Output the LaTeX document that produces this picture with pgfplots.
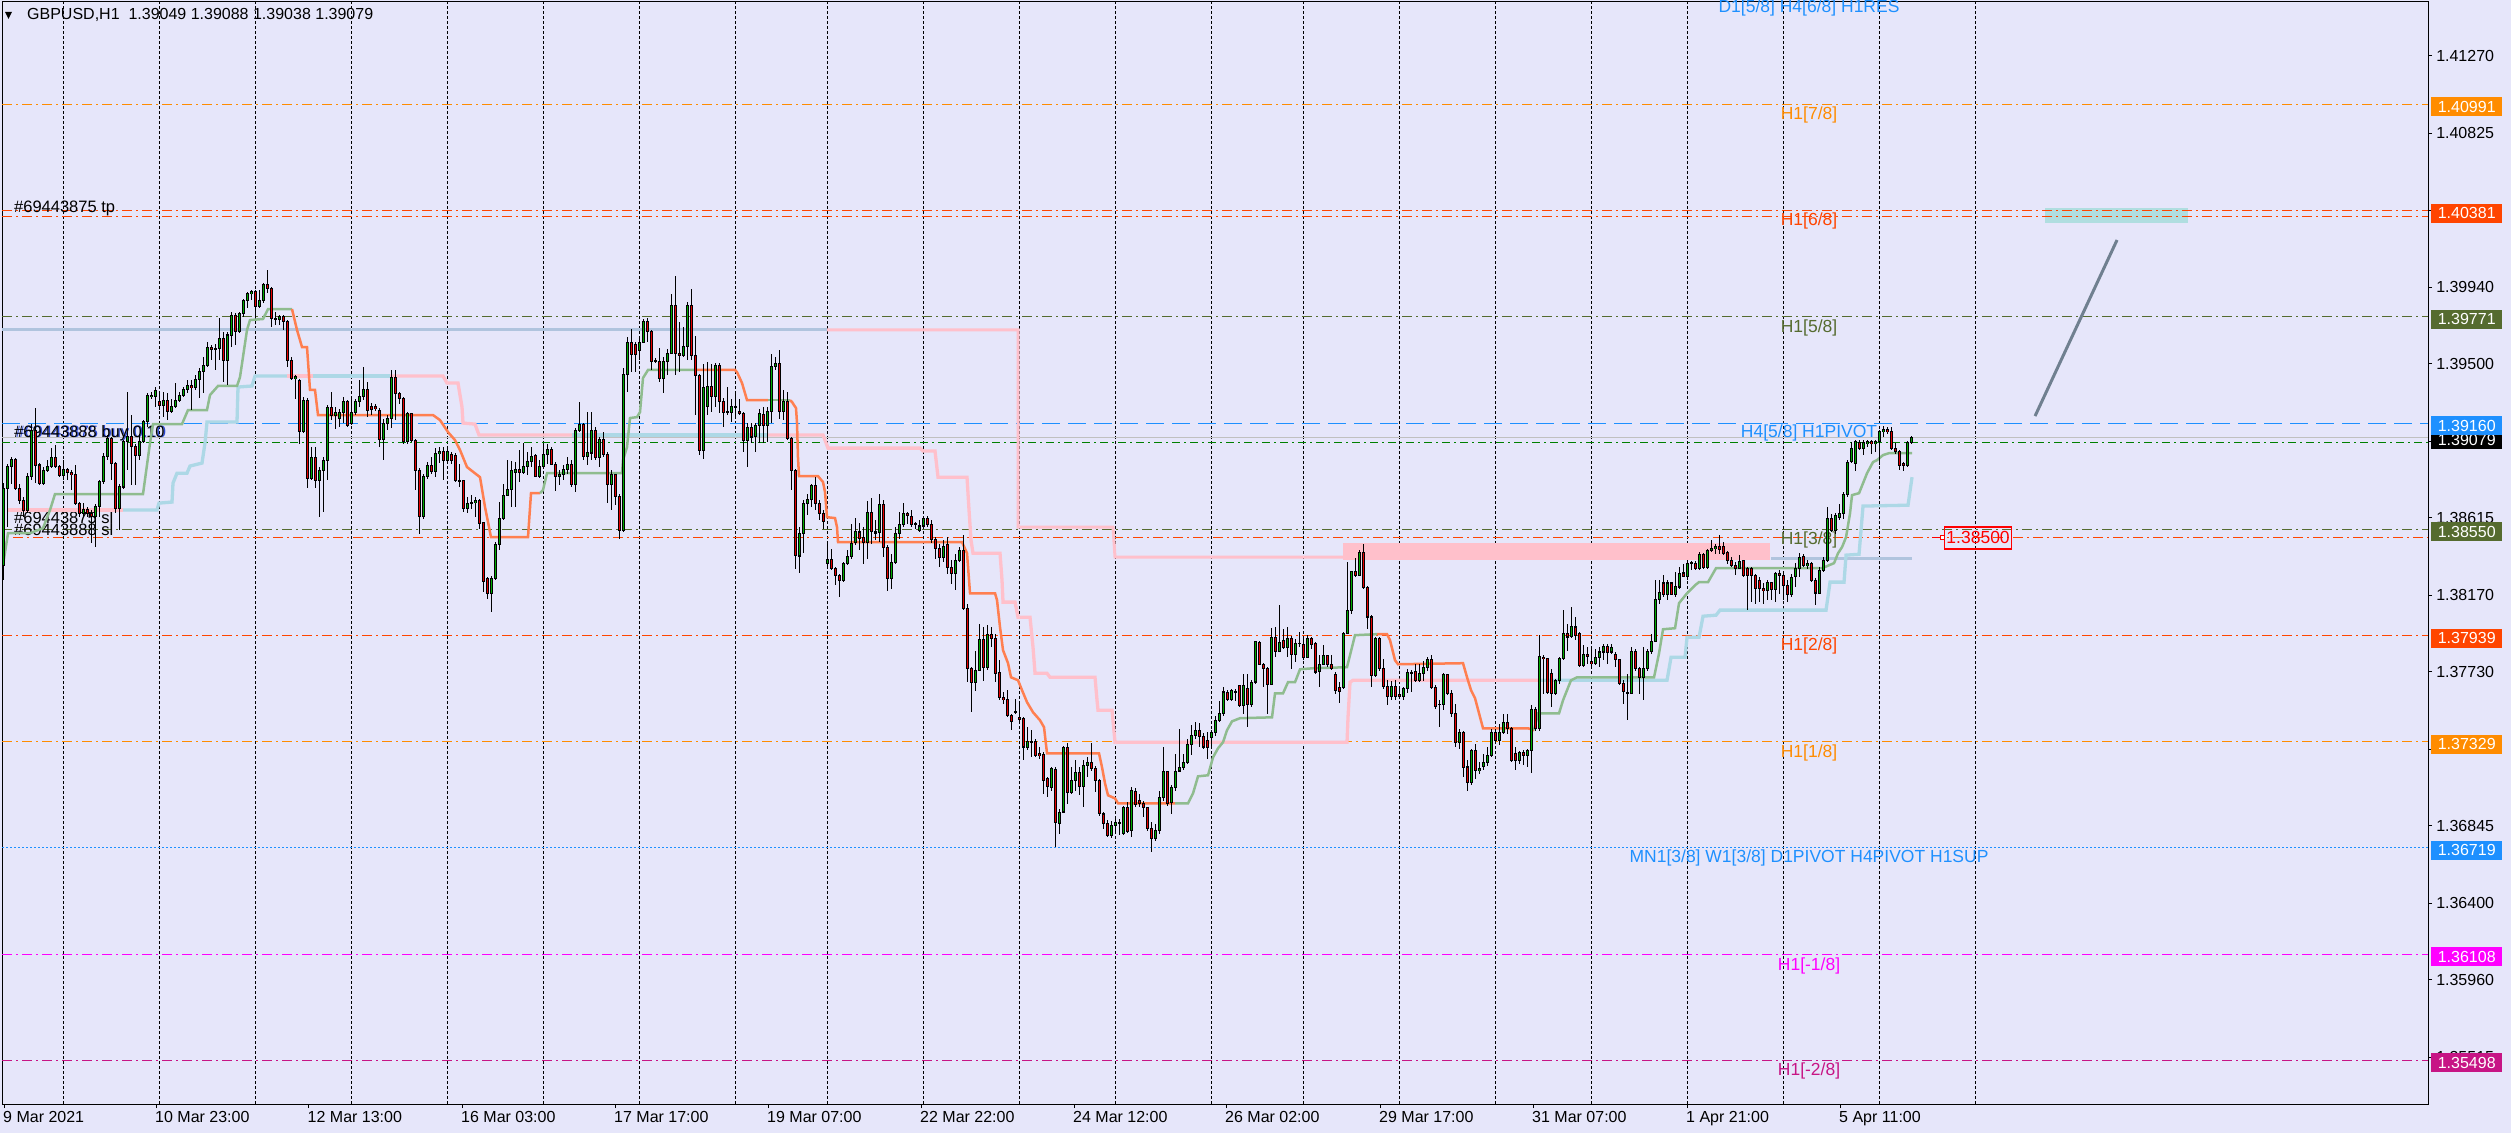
\documentclass[border=0pt]{standalone}
\usepackage{fontspec}
\setmainfont{Liberation Sans}
\usepackage{pgfplots}
\pgfplotsset{compat=1.18}
\usepackage{pgfplotstable}
\definecolor{bg}{RGB}{230,230,250}
\definecolor{dkorange}{RGB}{255,140,0}
\definecolor{orred}{RGB}{255,69,0}
\definecolor{olive2}{RGB}{85,107,47}
\definecolor{dodger}{RGB}{30,144,255}
\definecolor{magen}{RGB}{255,0,255}
\definecolor{mvred}{RGB}{199,21,133}
\definecolor{ordgreen}{RGB}{0,128,0}
\definecolor{silver}{RGB}{192,192,192}
\definecolor{coral2}{RGB}{255,127,80}
\definecolor{dsgreen}{RGB}{143,188,143}
\definecolor{lblue}{RGB}{173,216,230}
\definecolor{pink2}{RGB}{255,192,203}
\definecolor{lsteel}{RGB}{176,196,222}
\definecolor{slate}{RGB}{112,128,144}
\definecolor{teal1}{RGB}{176,222,224}
\definecolor{upc}{RGB}{0,170,0}
\definecolor{dnc}{RGB}{230,0,0}
\definecolor{ordblue}{RGB}{40,70,210}
\newcommand\tickfont{\fontsize{16bp}{18bp}\selectfont}
\newcommand\lvlfont{\fontsize{17.5bp}{20bp}\selectfont}
\newcommand\ordfont{\fontsize{16.5bp}{19bp}\selectfont}
\pgfplotstableread{
i O H L C
0 1.38344 1.38813 1.38257 1.38785
1 1.38785 1.38928 1.38564 1.38909
2 1.38909 1.38967 1.38813 1.38951
3 1.38951 1.38957 1.38775 1.38785
4 1.38785 1.38813 1.38698 1.38717
5 1.38717 1.38737 1.38622 1.38660
6 1.38660 1.38871 1.38641 1.38855
7 1.38855 1.39158 1.38832 1.39120
8 1.39120 1.39245 1.38813 1.38919
9 1.38919 1.38928 1.38804 1.38813
10 1.38813 1.38909 1.38804 1.38890
11 1.38890 1.38947 1.38880 1.38909
12 1.38909 1.39015 1.38900 1.38963
13 1.38963 1.39034 1.38900 1.38909
14 1.38909 1.38919 1.38852 1.38861
15 1.38861 1.38947 1.38832 1.38894
16 1.38894 1.38900 1.38832 1.38875
17 1.38875 1.38890 1.38775 1.38867
18 1.38867 1.38919 1.38689 1.38698
19 1.38698 1.38708 1.38622 1.38641
20 1.38641 1.38698 1.38622 1.38664
21 1.38664 1.38679 1.38622 1.38641
22 1.38641 1.38660 1.38468 1.38622
23 1.38622 1.38698 1.38449 1.38679
24 1.38679 1.38832 1.38622 1.38823
25 1.38823 1.38986 1.38813 1.38967
26 1.38967 1.39091 1.38947 1.39072
27 1.39072 1.39082 1.38832 1.38928
28 1.38928 1.38938 1.38641 1.38670
29 1.38670 1.38813 1.38545 1.38794
30 1.38794 1.39062 1.38785 1.39053
31 1.39053 1.39340 1.38890 1.39082
32 1.39082 1.39206 1.38804 1.39024
33 1.39024 1.39043 1.38804 1.38976
34 1.38976 1.39101 1.38947 1.39053
35 1.39053 1.39177 1.39043 1.39168
36 1.39168 1.39331 1.39139 1.39321
37 1.39312 1.39340 1.39302 1.39321
38 1.39312 1.39369 1.39254 1.39350
39 1.39283 1.39331 1.39235 1.39264
40 1.39264 1.39340 1.39197 1.39289
41 1.39289 1.39331 1.39177 1.39225
42 1.39225 1.39302 1.39216 1.39254
43 1.39254 1.39388 1.39245 1.39289
44 1.39289 1.39340 1.39283 1.39321
45 1.39321 1.39369 1.39312 1.39354
46 1.39354 1.39407 1.39331 1.39379
47 1.39379 1.39407 1.39235 1.39365
48 1.39365 1.39436 1.39350 1.39411
49 1.39411 1.39475 1.39302 1.39455
50 1.39455 1.39542 1.39331 1.39494
51 1.39494 1.39628 1.39484 1.39595
52 1.39595 1.39609 1.39522 1.39584
53 1.39584 1.39618 1.39465 1.39588
54 1.39588 1.39762 1.39522 1.39647
55 1.39647 1.39685 1.39398 1.39522
56 1.39522 1.39685 1.39379 1.39666
57 1.39666 1.39800 1.39599 1.39777
58 1.39777 1.39795 1.39609 1.39685
59 1.39685 1.39800 1.39676 1.39791
60 1.39791 1.39871 1.39772 1.39864
61 1.39864 1.39915 1.39820 1.39906
62 1.39906 1.39925 1.39867 1.39915
63 1.39915 1.39925 1.39772 1.39829
64 1.39829 1.39925 1.39820 1.39867
65 1.39867 1.39963 1.39848 1.39954
66 1.39954 1.40040 1.39906 1.39935
67 1.39935 1.39944 1.39714 1.39762
68 1.39762 1.39800 1.39724 1.39756
69 1.39756 1.39781 1.39724 1.39772
70 1.39772 1.39781 1.39695 1.39743
71 1.39743 1.39752 1.39484 1.39522
72 1.39522 1.39542 1.39407 1.39417
73 1.39417 1.39436 1.39302 1.39427
74 1.39407 1.39417 1.39043 1.39110
75 1.39110 1.39312 1.39101 1.39292
76 1.39292 1.39302 1.38785 1.38842
77 1.38842 1.39024 1.38832 1.38963
78 1.38963 1.39024 1.38785 1.38832
79 1.38832 1.38909 1.38622 1.38890
80 1.38890 1.38967 1.38650 1.38944
81 1.38944 1.39264 1.38832 1.39250
82 1.39250 1.39340 1.39177 1.39206
83 1.39206 1.39254 1.39130 1.39220
84 1.39187 1.39245 1.39139 1.39220
85 1.39220 1.39312 1.39158 1.39283
86 1.39283 1.39292 1.39139 1.39149
87 1.39158 1.39312 1.39149 1.39220
88 1.39220 1.39302 1.39206 1.39283
89 1.39283 1.39407 1.39254 1.39312
90 1.39312 1.39484 1.39292 1.39354
91 1.39354 1.39398 1.39197 1.39231
92 1.39254 1.39273 1.39206 1.39239
93 1.39254 1.39269 1.39231 1.39243
94 1.39235 1.39245 1.39024 1.39066
95 1.39066 1.39187 1.38947 1.39158
96 1.39158 1.39206 1.39120 1.39187
97 1.39187 1.39465 1.39130 1.39423
98 1.39423 1.39465 1.39177 1.39331
99 1.39331 1.39340 1.39273 1.39302
100 1.39302 1.39312 1.39043 1.39053
101 1.39053 1.39225 1.39043 1.39216
102 1.39216 1.39220 1.39053 1.39062
103 1.39062 1.39072 1.38775 1.38890
104 1.38890 1.38900 1.38522 1.38622
105 1.38622 1.38871 1.38612 1.38852
106 1.38852 1.38938 1.38842 1.38919
107 1.38919 1.38967 1.38871 1.38880
108 1.38880 1.39015 1.38852 1.38986
109 1.38986 1.39024 1.38928 1.38995
110 1.38995 1.39024 1.38832 1.38947
111 1.38947 1.39009 1.38928 1.38995
112 1.38982 1.38995 1.38928 1.38947
113 1.38976 1.38986 1.38823 1.38832
114 1.38832 1.38928 1.38794 1.38829
115 1.38829 1.38836 1.38650 1.38670
116 1.38670 1.38737 1.38641 1.38698
117 1.38698 1.38746 1.38670 1.38702
118 1.38702 1.38737 1.38622 1.38714
119 1.38714 1.38727 1.38555 1.38583
120 1.38589 1.38592 1.38190 1.38253
121 1.38267 1.38276 1.38152 1.38180
122 1.38180 1.38280 1.38075 1.38267
123 1.38267 1.38477 1.38257 1.38464
124 1.38464 1.38707 1.38429 1.38612
125 1.38612 1.38813 1.38602 1.38746
126 1.38746 1.38947 1.38746 1.38778
127 1.38778 1.38943 1.38679 1.38889
128 1.38876 1.38937 1.38679 1.38893
129 1.38893 1.39004 1.38822 1.38876
130 1.38876 1.39047 1.38870 1.38912
131 1.38912 1.38995 1.38861 1.38937
132 1.38937 1.39024 1.38909 1.38966
133 1.38976 1.38985 1.38851 1.38855
134 1.38855 1.38951 1.38847 1.38909
135 1.38909 1.39043 1.38899 1.38981
136 1.38981 1.39043 1.38924 1.39008
137 1.39008 1.39024 1.38918 1.38924
138 1.38924 1.38937 1.38771 1.38855
139 1.38855 1.38889 1.38803 1.38866
140 1.38866 1.38918 1.38832 1.38893
141 1.38893 1.38966 1.38870 1.38924
142 1.38924 1.38947 1.38794 1.38809
143 1.38809 1.39129 1.38765 1.39119
144 1.39119 1.39282 1.39110 1.39154
145 1.39154 1.39158 1.38947 1.38970
146 1.38970 1.39225 1.38918 1.38989
147 1.38989 1.39225 1.38951 1.39119
148 1.39119 1.39139 1.38947 1.38962
149 1.38962 1.39081 1.38909 1.39066
150 1.39066 1.39110 1.38966 1.38981
151 1.38981 1.38995 1.38702 1.38809
152 1.38809 1.38889 1.38663 1.38866
153 1.38866 1.38870 1.38688 1.38740
154 1.38740 1.38755 1.38497 1.38544
155 1.38544 1.39474 1.38535 1.39442
156 1.39442 1.39652 1.39340 1.39624
157 1.39624 1.39704 1.39455 1.39555
158 1.39612 1.39627 1.39455 1.39555
159 1.39579 1.39647 1.39522 1.39622
160 1.39622 1.39756 1.39618 1.39742
161 1.39742 1.39767 1.39627 1.39685
162 1.39685 1.39694 1.39464 1.39512
163 1.39522 1.39532 1.39503 1.39516
164 1.39516 1.39589 1.39397 1.39417
165 1.39417 1.39541 1.39334 1.39512
166 1.39512 1.39589 1.39436 1.39560
167 1.39560 1.39905 1.39560 1.39838
168 1.39838 1.40005 1.39436 1.39560
169 1.39560 1.39742 1.39455 1.39551
170 1.39551 1.39714 1.39541 1.39602
171 1.39602 1.39857 1.39522 1.39838
172 1.39838 1.39928 1.39522 1.39551
173 1.39551 1.39660 1.39206 1.39436
174 1.39436 1.39445 1.38976 1.39004
175 1.39004 1.39503 1.38957 1.39365
176 1.39257 1.39512 1.39206 1.39369
177 1.39369 1.39503 1.39225 1.39311
178 1.39311 1.39503 1.39254 1.39493
179 1.39493 1.39503 1.39215 1.39282
180 1.39282 1.39302 1.39139 1.39219
181 1.39225 1.39369 1.39206 1.39219
182 1.39219 1.39302 1.39167 1.39254
183 1.39254 1.39330 1.39200 1.39257
184 1.39229 1.39302 1.39206 1.39215
185 1.39215 1.39225 1.38995 1.39058
186 1.39058 1.39158 1.38909 1.39135
187 1.39135 1.39158 1.39047 1.39081
188 1.39081 1.39162 1.38995 1.39148
189 1.39148 1.39244 1.39047 1.39215
190 1.39211 1.39254 1.39047 1.39144
191 1.39144 1.39254 1.39052 1.39229
192 1.39229 1.39556 1.39158 1.39487
193 1.39487 1.39541 1.39464 1.39503
194 1.39503 1.39583 1.39187 1.39225
195 1.39225 1.39353 1.39177 1.39282
196 1.39282 1.39340 1.39062 1.39072
197 1.39072 1.39081 1.38774 1.38886
198 1.38886 1.38899 1.38324 1.38397
199 1.38397 1.38564 1.38295 1.38525
200 1.38525 1.38717 1.38410 1.38698
201 1.38698 1.38755 1.38631 1.38721
202 1.38721 1.38813 1.38679 1.38803
203 1.38803 1.38851 1.38659 1.38698
204 1.38698 1.38717 1.38602 1.38640
205 1.38640 1.38659 1.38554 1.38598
206 1.38353 1.38468 1.38324 1.38376
207 1.38376 1.38439 1.38314 1.38324
208 1.38324 1.38334 1.38228 1.38286
209 1.38286 1.38295 1.38161 1.38257
210 1.38257 1.38362 1.38247 1.38353
211 1.38353 1.38429 1.38343 1.38395
212 1.38395 1.38583 1.38382 1.38472
213 1.38472 1.38612 1.38458 1.38535
214 1.38535 1.38583 1.38429 1.38497
215 1.38502 1.38564 1.38353 1.38472
216 1.38472 1.38713 1.38382 1.38646
217 1.38646 1.38732 1.38468 1.38535
218 1.38535 1.38602 1.38487 1.38529
219 1.38529 1.38755 1.38477 1.38692
220 1.38692 1.38717 1.38391 1.38445
221 1.38445 1.38458 1.38199 1.38267
222 1.38267 1.38410 1.38209 1.38359
223 1.38359 1.38564 1.38349 1.38525
224 1.38525 1.38650 1.38497 1.38579
225 1.38579 1.38702 1.38564 1.38640
226 1.38640 1.38650 1.38583 1.38631
227 1.38625 1.38663 1.38564 1.38579
228 1.38583 1.38592 1.38554 1.38579
229 1.38544 1.38602 1.38535 1.38569
230 1.38569 1.38621 1.38564 1.38612
231 1.38612 1.38625 1.38564 1.38579
232 1.38579 1.38602 1.38472 1.38491
233 1.38491 1.38506 1.38382 1.38439
234 1.38439 1.38468 1.38334 1.38387
235 1.38387 1.38487 1.38362 1.38452
236 1.38464 1.38506 1.38295 1.38330
237 1.38330 1.38372 1.38238 1.38295
238 1.38295 1.38410 1.38199 1.38372
239 1.38372 1.38449 1.38362 1.38429
240 1.38429 1.38516 1.38084 1.38094
241 1.38094 1.38123 1.37672 1.37749
242 1.37749 1.37759 1.37500 1.37667
243 1.37667 1.37854 1.37624 1.37739
244 1.37739 1.38008 1.37736 1.37916
245 1.37916 1.37989 1.37682 1.37755
246 1.37755 1.37998 1.37739 1.37946
247 1.37946 1.37989 1.37874 1.37922
248 1.37922 1.37950 1.37672 1.37724
249 1.37724 1.37797 1.37567 1.37582
250 1.37582 1.37615 1.37548 1.37571
251 1.37571 1.37624 1.37471 1.37481
252 1.37481 1.37490 1.37394 1.37448
253 1.37500 1.37577 1.37490 1.37506
254 1.37471 1.37567 1.37442 1.37456
255 1.37462 1.37471 1.37222 1.37299
256 1.37299 1.37414 1.37279 1.37333
257 1.37333 1.37394 1.37241 1.37327
258 1.37333 1.37347 1.37241 1.37251
259 1.37260 1.37299 1.37232 1.37251
260 1.37256 1.37270 1.37030 1.37107
261 1.37117 1.37126 1.37011 1.37069
262 1.37069 1.37184 1.37049 1.37174
263 1.37168 1.37184 1.36727 1.36862
264 1.36862 1.36944 1.36800 1.36925
265 1.36925 1.37308 1.36925 1.37295
266 1.37295 1.37322 1.36973 1.37040
267 1.37040 1.37184 1.37030 1.37107
268 1.37107 1.37226 1.37049 1.37155
269 1.37155 1.37187 1.37021 1.37074
270 1.37074 1.37222 1.36954 1.37193
271 1.37193 1.37245 1.37126 1.37209
272 1.37209 1.37322 1.37164 1.37174
273 1.37174 1.37193 1.37040 1.37107
274 1.37107 1.37117 1.36906 1.36915
275 1.36915 1.36925 1.36829 1.36858
276 1.36858 1.36877 1.36781 1.36791
277 1.36791 1.36873 1.36777 1.36848
278 1.36848 1.36892 1.36800 1.36862
279 1.36862 1.36887 1.36796 1.36867
280 1.36800 1.36963 1.36791 1.36954
281 1.36954 1.36982 1.36804 1.36816
282 1.36816 1.37069 1.36781 1.37046
283 1.37046 1.37065 1.36954 1.36969
284 1.36992 1.37030 1.36957 1.36973
285 1.36973 1.36992 1.36896 1.36950
286 1.36950 1.36954 1.36819 1.36829
287 1.36829 1.36867 1.36695 1.36772
288 1.36772 1.36858 1.36762 1.36819
289 1.36819 1.37049 1.36800 1.37007
290 1.37007 1.37299 1.36992 1.37161
291 1.37161 1.37164 1.36963 1.36977
292 1.36977 1.37078 1.36915 1.37065
293 1.37065 1.37260 1.37049 1.37161
294 1.37161 1.37404 1.37155 1.37180
295 1.37180 1.37260 1.37164 1.37209
296 1.37209 1.37347 1.37203 1.37314
297 1.37314 1.37423 1.37251 1.37366
298 1.37366 1.37442 1.37347 1.37394
299 1.37394 1.37437 1.37299 1.37360
300 1.37360 1.37379 1.37289 1.37299
301 1.37337 1.37385 1.37232 1.37295
302 1.37352 1.37394 1.37299 1.37385
303 1.37385 1.37481 1.37366 1.37452
304 1.37452 1.37567 1.37442 1.37490
305 1.37490 1.37644 1.37481 1.37615
306 1.37615 1.37628 1.37567 1.37571
307 1.37571 1.37634 1.37563 1.37624
308 1.37615 1.37634 1.37567 1.37621
309 1.37653 1.37653 1.37529 1.37538
310 1.37538 1.37720 1.37490 1.37653
311 1.37634 1.37720 1.37414 1.37544
312 1.37544 1.37682 1.37529 1.37672
313 1.37672 1.37908 1.37663 1.37902
314 1.37902 1.37908 1.37768 1.37774
315 1.37774 1.37782 1.37644 1.37749
316 1.37749 1.37759 1.37490 1.37659
317 1.37659 1.37985 1.37653 1.37927
318 1.37927 1.37989 1.37816 1.37851
319 1.37851 1.38119 1.37845 1.37902
320 1.37912 1.37979 1.37864 1.37874
321 1.37874 1.37989 1.37816 1.37922
322 1.37922 1.37935 1.37749 1.37831
323 1.37831 1.37922 1.37787 1.37893
324 1.37893 1.37960 1.37874 1.37897
325 1.37889 1.37931 1.37797 1.37816
326 1.37816 1.37941 1.37812 1.37922
327 1.37922 1.37931 1.37864 1.37889
328 1.37893 1.37902 1.37720 1.37730
329 1.37730 1.37826 1.37644 1.37774
330 1.37774 1.37883 1.37768 1.37826
331 1.37826 1.37831 1.37759 1.37774
332 1.37774 1.37826 1.37739 1.37749
333 1.37716 1.37730 1.37605 1.37624
334 1.37644 1.37672 1.37552 1.37621
335 1.37644 1.37960 1.37634 1.37950
336 1.37950 1.38362 1.37946 1.38084
337 1.38084 1.38314 1.38065 1.38305
338 1.38305 1.38382 1.38276 1.38286
339 1.38286 1.38429 1.38280 1.38416
340 1.38416 1.38464 1.38209 1.38215
341 1.38215 1.38223 1.37979 1.38046
342 1.38046 1.38056 1.37644 1.37711
343 1.37711 1.37931 1.37701 1.37922
344 1.37922 1.37931 1.37739 1.37749
345 1.37749 1.37807 1.37634 1.37647
346 1.37647 1.37682 1.37538 1.37590
347 1.37590 1.37682 1.37571 1.37647
348 1.37647 1.37682 1.37567 1.37590
349 1.37601 1.37644 1.37586 1.37590
350 1.37590 1.37644 1.37571 1.37634
351 1.37634 1.37749 1.37609 1.37724
352 1.37724 1.37739 1.37615 1.37730
353 1.37730 1.37778 1.37672 1.37682
354 1.37682 1.37778 1.37672 1.37720
355 1.37720 1.37797 1.37682 1.37759
356 1.37759 1.37816 1.37739 1.37801
357 1.37801 1.37826 1.37634 1.37640
358 1.37640 1.37653 1.37519 1.37529
359 1.37544 1.37567 1.37414 1.37544
360 1.37544 1.37724 1.37513 1.37716
361 1.37716 1.37720 1.37596 1.37605
362 1.37605 1.37624 1.37471 1.37490
363 1.37490 1.37548 1.37299 1.37327
364 1.37327 1.37404 1.37289 1.37385
365 1.37385 1.37394 1.37126 1.37184
366 1.37184 1.37222 1.37049 1.37097
367 1.37097 1.37289 1.37078 1.37279
368 1.37279 1.37318 1.37117 1.37164
369 1.37164 1.37212 1.37145 1.37174
370 1.37184 1.37260 1.37164 1.37212
371 1.37212 1.37299 1.37193 1.37251
372 1.37251 1.37404 1.37241 1.37385
373 1.37385 1.37404 1.37327 1.37337
374 1.37337 1.37433 1.37308 1.37385
375 1.37385 1.37490 1.37375 1.37442
376 1.37442 1.37490 1.37375 1.37404
377 1.37404 1.37414 1.37212 1.37222
378 1.37260 1.37299 1.37164 1.37222
379 1.37222 1.37279 1.37203 1.37270
380 1.37270 1.37283 1.37193 1.37251
381 1.37251 1.37289 1.37184 1.37279
382 1.37279 1.37538 1.37149 1.37513
383 1.37513 1.37529 1.37394 1.37404
384 1.37404 1.37941 1.37394 1.37816
385 1.37816 1.37826 1.37605 1.37807
386 1.37807 1.37812 1.37605 1.37609
387 1.37720 1.37749 1.37529 1.37605
388 1.37605 1.37692 1.37596 1.37682
389 1.37682 1.37816 1.37663 1.37807
390 1.37807 1.38084 1.37797 1.37950
391 1.37950 1.38008 1.37854 1.37931
392 1.37931 1.38104 1.37922 1.37989
393 1.37989 1.38046 1.37912 1.37941
394 1.37950 1.37960 1.37759 1.37768
395 1.37768 1.37883 1.37759 1.37831
396 1.37831 1.37874 1.37778 1.37820
397 1.37791 1.37864 1.37759 1.37778
398 1.37778 1.37864 1.37768 1.37812
399 1.37812 1.37874 1.37759 1.37845
400 1.37845 1.37893 1.37797 1.37874
401 1.37877 1.37893 1.37778 1.37845
402 1.37845 1.37893 1.37835 1.37870
403 1.37831 1.37845 1.37759 1.37801
404 1.37801 1.37807 1.37653 1.37663
405 1.37663 1.37682 1.37548 1.37615
406 1.37615 1.37720 1.37452 1.37609
407 1.37609 1.37874 1.37605 1.37851
408 1.37851 1.37864 1.37739 1.37749
409 1.37749 1.37759 1.37605 1.37701
410 1.37701 1.37874 1.37567 1.37749
411 1.37749 1.37864 1.37739 1.37851
412 1.37851 1.37950 1.37835 1.37908
413 1.37908 1.38257 1.37902 1.38146
414 1.38146 1.38257 1.38123 1.38190
415 1.38242 1.38286 1.38161 1.38176
416 1.38176 1.38257 1.38142 1.38242
417 1.38242 1.38247 1.38171 1.38176
418 1.38176 1.38305 1.38161 1.38219
419 1.38219 1.38334 1.38209 1.38299
420 1.38299 1.38353 1.38276 1.38280
421 1.38280 1.38372 1.38257 1.38353
422 1.38353 1.38368 1.38314 1.38357
423 1.38357 1.38368 1.38314 1.38324
424 1.38324 1.38420 1.38314 1.38406
425 1.38406 1.38414 1.38324 1.38330
426 1.38330 1.38439 1.38324 1.38429
427 1.38429 1.38491 1.38420 1.38439
428 1.38439 1.38464 1.38410 1.38449
429 1.38449 1.38516 1.38410 1.38433
430 1.38449 1.38477 1.38401 1.38410
431 1.38414 1.38426 1.38353 1.38372
432 1.38372 1.38391 1.38334 1.38343
433 1.38343 1.38362 1.38286 1.38324
434 1.38324 1.38401 1.38324 1.38368
435 1.38368 1.38372 1.38276 1.38286
436 1.38324 1.38334 1.38084 1.38286
437 1.38324 1.38334 1.38132 1.38286
438 1.38286 1.38295 1.38123 1.38209
439 1.38257 1.38276 1.38132 1.38209
440 1.38209 1.38242 1.38123 1.38196
441 1.38196 1.38257 1.38142 1.38242
442 1.38242 1.38247 1.38142 1.38203
443 1.38203 1.38305 1.38132 1.38295
444 1.38295 1.38314 1.38180 1.38286
445 1.38286 1.38295 1.38142 1.38228
446 1.38228 1.38257 1.38132 1.38176
447 1.38176 1.38295 1.38161 1.38276
448 1.38276 1.38353 1.38219 1.38324
449 1.38324 1.38414 1.38276 1.38391
450 1.38391 1.38406 1.38334 1.38343
451 1.38343 1.38372 1.38324 1.38353
452 1.38353 1.38362 1.38247 1.38257
453 1.38257 1.38267 1.38113 1.38184
454 1.38184 1.38334 1.38180 1.38314
455 1.38314 1.38391 1.38305 1.38372
456 1.38372 1.38679 1.38362 1.38612
457 1.38612 1.38640 1.38535 1.38541
458 1.38541 1.38644 1.38525 1.38631
459 1.38621 1.38698 1.38602 1.38640
460 1.38640 1.38765 1.38612 1.38751
461 1.38751 1.38947 1.38736 1.38937
462 1.38937 1.39052 1.38928 1.39014
463 1.38928 1.39062 1.38886 1.39052
464 1.39052 1.39062 1.39004 1.39014
465 1.39014 1.39062 1.38976 1.39052
466 1.39043 1.39066 1.39024 1.39052
467 1.39052 1.39062 1.38985 1.39043
468 1.39043 1.39066 1.38995 1.39052
469 1.39052 1.39119 1.38918 1.39110
470 1.39110 1.39142 1.39081 1.39123
471 1.39123 1.39135 1.39100 1.39110
472 1.39110 1.39139 1.39004 1.39014
473 1.39014 1.39043 1.38985 1.38995
474 1.38995 1.39004 1.38889 1.38918
475 1.38928 1.38937 1.38886 1.38918
476 1.38918 1.39058 1.38909 1.39047
477 1.39049 1.39088 1.39038 1.39079
}\candles
\pgfplotsset{
  dashdot/.style={dash pattern=on 10bp off 4bp on 2bp off 4bp},
  lvl/.style={line width=1bp, forget plot},
}
\tikzset{
  rbox/.style={anchor=west, inner sep=0pt, minimum width=71bp, minimum height=19bp, text=white, font=\tickfont, yshift=-2.5bp},
  lbl/.style={anchor=center, inner sep=0pt, font=\lvlfont},
}
\begin{document}
\begin{tikzpicture}
\fill[bg] (0,0) rectangle (2511bp,1133bp);
\useasboundingbox (0,0) rectangle (2511bp,1133bp);
\begin{axis}[
  at={(2bp,29bp)}, anchor=south west,
  scale only axis, width=2426bp, height=1102bp,
  xmin=-0.25, xmax=606.25, ymin=1.35247, ymax=1.41580,
  axis background/.style={fill=bg},
  axis line style={black, line width=1bp},
  clip mode=individual,
  tick align=outside, major tick length=4bp,
  tick style={black, line width=1bp},
  xtick pos=bottom, ytick pos=right, yticklabel pos=right,
  xtick={0.25,38.25,76.375,114.75,153,191.25,229.5,267.75,305.75,344.25,382.5,421,459.25},
  xticklabels={9 Mar 2021,10 Mar 23:00,12 Mar 13:00,16 Mar 03:00,17 Mar 17:00,19 Mar 07:00,22 Mar 22:00,24 Mar 12:00,26 Mar 02:00,29 Mar 17:00,31 Mar 07:00,1 Apr 21:00,5 Apr 11:00},
  ytick={1.35515,1.35960,1.36400,1.36845,1.37285,1.37730,1.38170,1.38615,1.39055,1.39500,1.39940,1.40380,1.40825,1.41270},
  yticklabels={1.35515,1.35960,1.36400,1.36845,{},1.37730,1.38170,1.38615,{},1.39500,1.39940,{},1.40825,1.41270},
  tick label style={font=\tickfont, text=black},
  xticklabel style={anchor=north west, inner sep=0pt, xshift=-1bp, yshift=-3bp},
  yticklabel style={anchor=west, inner sep=0pt, xshift=4bp},
  extra x ticks={15.075,39.075,63.075,87.075,111.075,135.075,159.075,183.075,206.075,230.075,254.075,278.075,302.075,325.075,349.075,373.075,397.075,421.075,445.075,469.075,493.075},
  extra x tick labels={},
  extra x tick style={grid=major, major tick length=0pt},
  major grid style={black, line width=1bp, dash pattern=on 3bp off 2bp},
]
% zones
\addplot[fill=teal1, draw=none, forget plot] coordinates {(510.5,1.40310) (546.25,1.40310) (546.25,1.40396) (510.5,1.40396)};
\addplot[fill=pink2, draw=none, forget plot] coordinates {(335,1.38372) (441.75,1.38372) (441.75,1.38470) (335,1.38470)};
% level lines
\addplot[lvl, dkorange, dashdot] coordinates {(-0.25,1.40991) (606.25,1.40991)};
\addplot[lvl, orred, dashdot] coordinates {(-0.25,1.40381) (606.25,1.40381)};
\addplot[lvl, orred, dashdot] coordinates {(-0.25,1.40348) (606.25,1.40348)};
\addplot[lvl, olive2, dashdot] coordinates {(-0.25,1.39771) (606.25,1.39771)};
\addplot[lvl, dodger, dash pattern=on 18bp off 8bp] coordinates {(-0.25,1.39160) (606.25,1.39160)};
\addplot[lvl, silver] coordinates {(-0.25,1.39079) (606.25,1.39079)};
\addplot[lvl, ordgreen, dash pattern=on 8bp off 4bp on 2bp off 4bp] coordinates {(-0.25,1.39050) (606.25,1.39050)};
\addplot[lvl, olive2, dashdot] coordinates {(-0.25,1.38550) (606.25,1.38550)};
\addplot[lvl, orred, dashdot] coordinates {(2.5,1.38501) (606.25,1.38501)};
\addplot[lvl, orred, dashdot] coordinates {(-0.25,1.37939) (606.25,1.37939)};
\addplot[lvl, dkorange, dashdot] coordinates {(-0.25,1.37329) (606.25,1.37329)};
\addplot[lvl, dodger, dash pattern=on 2bp off 2bp] coordinates {(-0.25,1.36719) (606.25,1.36719)};
\addplot[lvl, magen, dashdot] coordinates {(-0.25,1.36108) (606.25,1.36108)};
\addplot[lvl, mvred, dashdot] coordinates {(-0.25,1.35498) (606.25,1.35498)};
% level labels
\node[lbl, text=dodger] at (axis cs:451.5,1.41546) {D1[5/8] H4[6/8] H1RES};
\node[lbl, text=dkorange] at (axis cs:451.5,1.40931) {H1[7/8]};
\node[lbl, text=orred] at (axis cs:451.5,1.40321) {H1[6/8]};
\node[lbl, text=olive2] at (axis cs:451.5,1.39706) {H1[5/8]};
\node[lbl, text=dodger] at (axis cs:451.5,1.39102) {H4[5/8] H1PIVOT};
\node[lbl, text=olive2] at (axis cs:451.5,1.38487) {H1[3/8]};
\node[lbl, text=orred] at (axis cs:451.5,1.37878) {H1[2/8]};
\node[lbl, text=dkorange] at (axis cs:451.5,1.37262) {H1[1/8]};
\node[lbl, text=dodger] at (axis cs:451.5,1.36659) {MN1[3/8] W1[3/8] D1PIVOT H4PIVOT H1SUP};
\node[lbl, text=magen] at (axis cs:451.5,1.36038) {H1[-1/8]};
\node[lbl, text=mvred] at (axis cs:451.5,1.35434) {H1[-2/8]};
% order labels
\node[anchor=west, inner sep=0pt, font=\ordfont, text=black] at (axis cs:2.75,1.40396) {\#69443875 tp};
\node[anchor=west, inner sep=0pt, font=\ordfont, text=ordblue] at (axis cs:3.1,1.39102) {\#69443875 buy 0.10};
\node[anchor=west, inner sep=0pt, font=\ordfont, text=black] at (axis cs:2.75,1.39102) {\#69443888 buy 0.10};
\node[anchor=west, inner sep=0pt, font=\ordfont, text=black] at (axis cs:2.75,1.38619) {\#69443875 sl};
\node[anchor=west, inner sep=0pt, font=\ordfont, text=black] at (axis cs:2.75,1.38550) {\#69443888 sl};
% thick level line C
\addplot[lsteel, line width=3bp, forget plot] coordinates {(-0.25,1.39695) (206,1.39695)};
\addplot[pink2, line width=3bp, forget plot] coordinates {(206,1.39695) (253.75,1.39695) (253.75,1.38562) (277.5,1.38562) (278,1.38389) (335,1.38389)};
\addplot[lsteel, line width=3bp, forget plot] coordinates {(442,1.38383) (477.25,1.38383)};
% slow line B
\addplot[pink2, line width=3.3bp, forget plot] coordinates {(1,1.38660) (30,1.38660)};
\addplot[lblue, line width=3.3bp, forget plot] coordinates {(30,1.38660) (38.5,1.38660) (39,1.38700) (42.25,1.38706) (42.5,1.38815) (43.5,1.38872) (46,1.38872) (46.75,1.38913) (49.75,1.38930) (50.5,1.39045) (51,1.39166) (58.5,1.39166) (58.75,1.39367) (62.25,1.39373) (63,1.39430) (71,1.39430)};
\addplot[pink2, line width=3.3bp, forget plot] coordinates {(71,1.39430) (77.5,1.39430)};
\addplot[lblue, line width=3.3bp, forget plot] coordinates {(77.5,1.39430) (96.75,1.39430)};
\addplot[pink2, line width=3.3bp, forget plot] coordinates {(96.75,1.39430) (110,1.39430) (111,1.39390) (113.75,1.39390) (114.75,1.39252) (115,1.39160) (118,1.39154) (119,1.39091) (142.25,1.39091)};
\addplot[lblue, line width=3.3bp, forget plot] coordinates {(142.25,1.39091) (191,1.39091)};
\addplot[pink2, line width=3.3bp, forget plot] coordinates {(191,1.39091) (205,1.39091) (205.5,1.39062) (206.25,1.39016) (229.25,1.39016) (230,1.38999) (233,1.38999) (233.75,1.38849) (241,1.38849) (241.5,1.38660) (242,1.38487) (242.5,1.38412) (249.25,1.38412) (249.75,1.38257) (250,1.38131) (253,1.38131) (253.75,1.38044) (256.75,1.38044) (257.5,1.37872) (258,1.37722) (261,1.37722) (261.75,1.37699) (273,1.37699) (273.5,1.37567) (273.75,1.37510) (277.25,1.37510) (278,1.37326) (336,1.37326) (336.25,1.37469) (336.75,1.37671) (337.5,1.37682) (383.75,1.37682)};
\addplot[lblue, line width=3.3bp, forget plot] coordinates {(383.75,1.37682) (416,1.37682) (417,1.37814) (420.5,1.37814) (421,1.37929) (424,1.37929) (425,1.38050) (428.25,1.38056) (429.25,1.38085) (455.75,1.38085) (456.75,1.38246) (460.25,1.38246) (460.75,1.38401) (464,1.38406) (465,1.38683) (476.25,1.38688) (477.25,1.38849)};
% fast line A
\addplot[dsgreen, line width=2.5bp, forget plot] coordinates {(0,1.38343) (1.25,1.38527) (6.75,1.38527) (10,1.38556) (11.75,1.38660) (13,1.38752) (35,1.38752) (36.75,1.39045) (37.5,1.39154) (44.75,1.39154) (46.25,1.39235) (51,1.39235) (51.75,1.39321) (53.75,1.39373) (58.5,1.39373) (59.25,1.39424) (61,1.39695) (61.75,1.39752) (65,1.39758) (66.25,1.39815) (72.25,1.39815)};
\addplot[coral2, line width=2.5bp, forget plot] coordinates {(72.25,1.39815) (73.5,1.39695) (74.75,1.39597) (76,1.39597) (76.75,1.39350) (78,1.39350) (78.75,1.39206) (107.5,1.39206) (109.25,1.39177) (111.25,1.39108) (113,1.39062) (114.25,1.39005) (116,1.38907) (119.25,1.38849) (120.5,1.38677) (122,1.38504) (131.25,1.38504) (132,1.38757) (134.25,1.38757)};
\addplot[dsgreen, line width=2.5bp, forget plot] coordinates {(134.25,1.38757) (135,1.38775) (136,1.38872) (154.75,1.38872) (155,1.38947) (156,1.39022) (156.75,1.39189) (158.5,1.39194) (159.25,1.39223) (160,1.39419) (161.25,1.39465) (173.5,1.39465)};
\addplot[coral2, line width=2.5bp, forget plot] coordinates {(173.5,1.39465) (183,1.39465) (183.5,1.39453) (184.75,1.39390) (186,1.39292) (191.25,1.39292)};
\addplot[dsgreen, line width=2.5bp, forget plot] coordinates {(191.25,1.39292) (196.75,1.39292)};
\addplot[coral2, line width=2.5bp, forget plot] coordinates {(196.75,1.39292) (197.25,1.39281) (198.25,1.39246) (198.5,1.39160) (198.75,1.38959) (199,1.38855) (203.75,1.38855) (205,1.38821) (205.5,1.38763) (206,1.38619) (208,1.38614) (208.5,1.38562) (208.75,1.38476) (239.75,1.38476) (241,1.38412) (241.75,1.38182) (248,1.38182) (248.5,1.38142) (249.25,1.37987) (250,1.37855) (251.25,1.37780) (252,1.37699) (253.75,1.37682) (254.75,1.37625) (256,1.37556) (257.5,1.37498) (259.25,1.37452) (260.25,1.37412) (261,1.37262) (274,1.37262) (274.75,1.37182) (275.5,1.37090) (276.25,1.37021) (278,1.37003) (278.75,1.36975) (293,1.36975)};
\addplot[dsgreen, line width=2.5bp, forget plot] coordinates {(293,1.36975) (296.25,1.36975) (297.5,1.37032) (298.75,1.37130) (301.25,1.37136) (302.5,1.37239) (303.75,1.37291) (305,1.37326) (306,1.37395) (307.25,1.37446) (309.25,1.37464) (317.25,1.37469) (318,1.37607) (320,1.37607) (321.25,1.37671) (323,1.37671) (324.25,1.37745) (327.5,1.37751) (336,1.37757) (338,1.37941) (343.5,1.37947)};
\addplot[coral2, line width=2.5bp, forget plot] coordinates {(343.5,1.37947) (346,1.37947) (346.75,1.37912) (348,1.37797) (348.75,1.37774) (365,1.37780) (366,1.37699) (367,1.37625) (368,1.37579) (369,1.37492) (370,1.37406) (381.25,1.37406) (382.75,1.37395)};
\addplot[dsgreen, line width=2.5bp, forget plot] coordinates {(382.75,1.37395) (383.75,1.37492) (389,1.37492) (390,1.37567) (392,1.37682) (393.5,1.37699) (412.75,1.37699) (414,1.37837) (415,1.37975) (418,1.37981) (419,1.38125) (421,1.38182) (423,1.38228) (424,1.38246) (426.25,1.38246) (428.25,1.38326) (454.75,1.38326) (457.75,1.38355) (458.75,1.38412) (459.75,1.38447) (460.75,1.38504) (461.75,1.38642) (462.25,1.38746) (464,1.38757) (466,1.38872) (467.5,1.38936) (468.5,1.38947) (470,1.38976) (471.5,1.38987) (477.25,1.38987)};
% candles: wicks
\addplot[draw=none, mark=none, forget plot, error bars/.cd, y dir=both, y explicit, error mark=none, error bar style={draw=black, line width=1bp, solid}] table[x=i, y expr={(\thisrow{H}+\thisrow{L})/2}, y error expr={(\thisrow{H}-\thisrow{L})/2}] {\candles};
% up bodies
\addplot[draw=none, mark=none, forget plot, restrict expr to domain={\thisrow{C}-\thisrow{O}}{0:1}, error bars/.cd, y dir=both, y explicit, error mark=none, error bar style={draw=black, line width=3bp, solid}] table[x=i, y expr={(\thisrow{O}+\thisrow{C})/2}, y error expr={abs(\thisrow{C}-\thisrow{O})/2+0.00003}] {\candles};
\addplot[draw=none, mark=none, forget plot, restrict expr to domain={\thisrow{C}-\thisrow{O}}{0:1}, error bars/.cd, y dir=both, y explicit, error mark=none, error bar style={draw=upc, line width=1bp, solid}] table[x=i, y expr={(\thisrow{O}+\thisrow{C})/2}, y error expr={max(abs(\thisrow{C}-\thisrow{O})/2-0.00003,0)}] {\candles};
% down bodies
\addplot[draw=none, mark=none, forget plot, restrict expr to domain={\thisrow{C}-\thisrow{O}}{-1:-0.000005}, error bars/.cd, y dir=both, y explicit, error mark=none, error bar style={draw=black, line width=3bp, solid}] table[x=i, y expr={(\thisrow{O}+\thisrow{C})/2}, y error expr={abs(\thisrow{C}-\thisrow{O})/2+0.00003}] {\candles};
\addplot[draw=none, mark=none, forget plot, restrict expr to domain={\thisrow{C}-\thisrow{O}}{-1:-0.000005}, error bars/.cd, y dir=both, y explicit, error mark=none, error bar style={draw=dnc, line width=1bp, solid}] table[x=i, y expr={(\thisrow{O}+\thisrow{C})/2}, y error expr={max(abs(\thisrow{C}-\thisrow{O})/2-0.00003,0)}] {\candles};
% trend line and alert
\addplot[slate, line width=3bp, forget plot] coordinates {(508,1.39200) (528.5,1.40212)};
\addplot[red, line width=1bp, forget plot] coordinates {(482.25,1.38500) (484.75,1.38500)};
\node[draw=red, fill=white, line width=1bp, minimum size=4bp, inner sep=0pt] at (axis cs:484.75,1.38500) {};
\node[draw=red, line width=1.5bp, text=red, font=\lvlfont, minimum width=67bp, minimum height=22bp, inner sep=0pt, anchor=west] at (axis cs:485.2,1.38500) {1.38500};
% right price boxes
\node[rbox, fill=dkorange] at (axis cs:607,1.40991) {1.40991};
\node[rbox, fill=orred] at (axis cs:607,1.40381) {1.40381};
\node[rbox, fill=olive2] at (axis cs:607,1.39771) {1.39771};
\node[rbox, fill=black] at (axis cs:607,1.39079) {1.39079};
\node[rbox, fill=dodger] at (axis cs:607,1.39160) {1.39160};
\node[rbox, fill=olive2] at (axis cs:607,1.38550) {1.38550};
\node[rbox, fill=orred] at (axis cs:607,1.37939) {1.37939};
\node[rbox, fill=dkorange] at (axis cs:607,1.37329) {1.37329};
\node[rbox, fill=dodger] at (axis cs:607,1.36719) {1.36719};
\node[rbox, fill=magen] at (axis cs:607,1.36108) {1.36108};
\node[rbox, fill=mvred] at (axis cs:607,1.35498) {1.35498};
\end{axis}
\fill[black] (5bp,1121bp) -- (12bp,1121bp) -- (8.5bp,1114bp) -- cycle;
\node[anchor=west, inner sep=0pt, font=\tickfont, text=black] at (27bp,1118bp) {GBPUSD,H1\ \ 1.39049 1.39088 1.39038 1.39079};
\end{tikzpicture}
\end{document}
